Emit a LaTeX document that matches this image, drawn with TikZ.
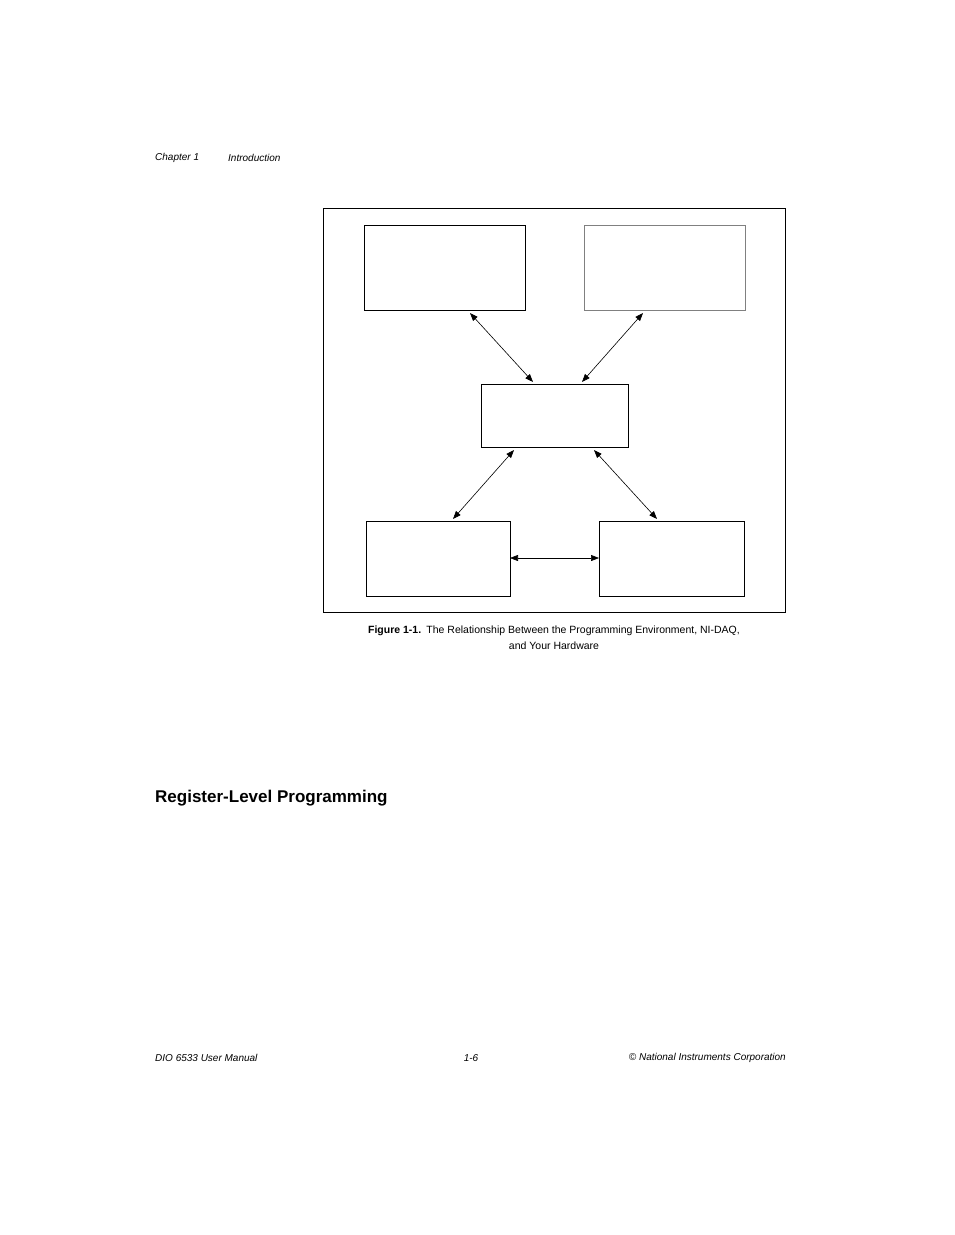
\documentclass[tikz,border=0pt]{standalone}
\usepackage{fontspec}
\setmainfont{Liberation Sans}
\usetikzlibrary{arrows.meta}
\begin{document}
\begin{tikzpicture}[x=1pt,y=-1pt,
 bx/.style={draw,line width=0.7pt},
 arr/.style={{Triangle[length=8pt,width=6pt]}-{Triangle[length=8pt,width=6pt]},line width=0.6pt},
 txt/.style={inner sep=0pt,font=\fontsize{10}{12}\selectfont\itshape}]
\useasboundingbox (0,0) rectangle (954,1235);
\fill[white] (0,0) rectangle (954,1235);
\node[txt,anchor=west] (ch) at (155,158) {Chapter 1};
\node[txt,anchor=west] (in) at (228,158) {Introduction};
\draw[line width=0.7pt] (323,208) rectangle (785,612);
\draw[bx] (364,225) rectangle (525,310);
\draw[bx,draw=gray] (584,225) rectangle (745,310);
\draw[bx] (481,384) rectangle (628,447);
\draw[bx] (366,521) rectangle (510,596);
\draw[bx] (599,521) rectangle (744,596);
\coordinate (a1) at (470,313); \coordinate (a2) at (533,382);
\coordinate (b1) at (643,313); \coordinate (b2) at (582,382);
\coordinate (c1) at (514,450); \coordinate (c2) at (453,519);
\coordinate (d1) at (594,450); \coordinate (d2) at (657,519);
\coordinate (e1) at (510,558); \coordinate (e2) at (599,558);
\draw[arr] (a1)--(a2); \draw[arr] (b1)--(b2); \draw[arr] (c1)--(c2);
\draw[arr] (d1)--(d2); \draw[arr] (e1)--(e2);
\node[align=center,inner sep=0pt,font=\fontsize{10.5}{16}\selectfont] (cap) at (554,638)
 {\textbf{Figure 1-1.}\hspace{0.5em}The Relationship Between the Programming Environment, NI-DAQ,\\ and Your Hardware};
\node[anchor=west,inner sep=0pt,font=\fontsize{17}{20}\selectfont\bfseries] (h) at (155,798) {Register-Level Programming};
\node[txt,anchor=west] (f1) at (155,1058) {DIO 6533 User Manual};
\node[txt] (f2) at (471,1058) {1-6};
\node[txt,anchor=east] (f3) at (786,1058) {© National Instruments Corporation};
\end{tikzpicture}
\end{document}
